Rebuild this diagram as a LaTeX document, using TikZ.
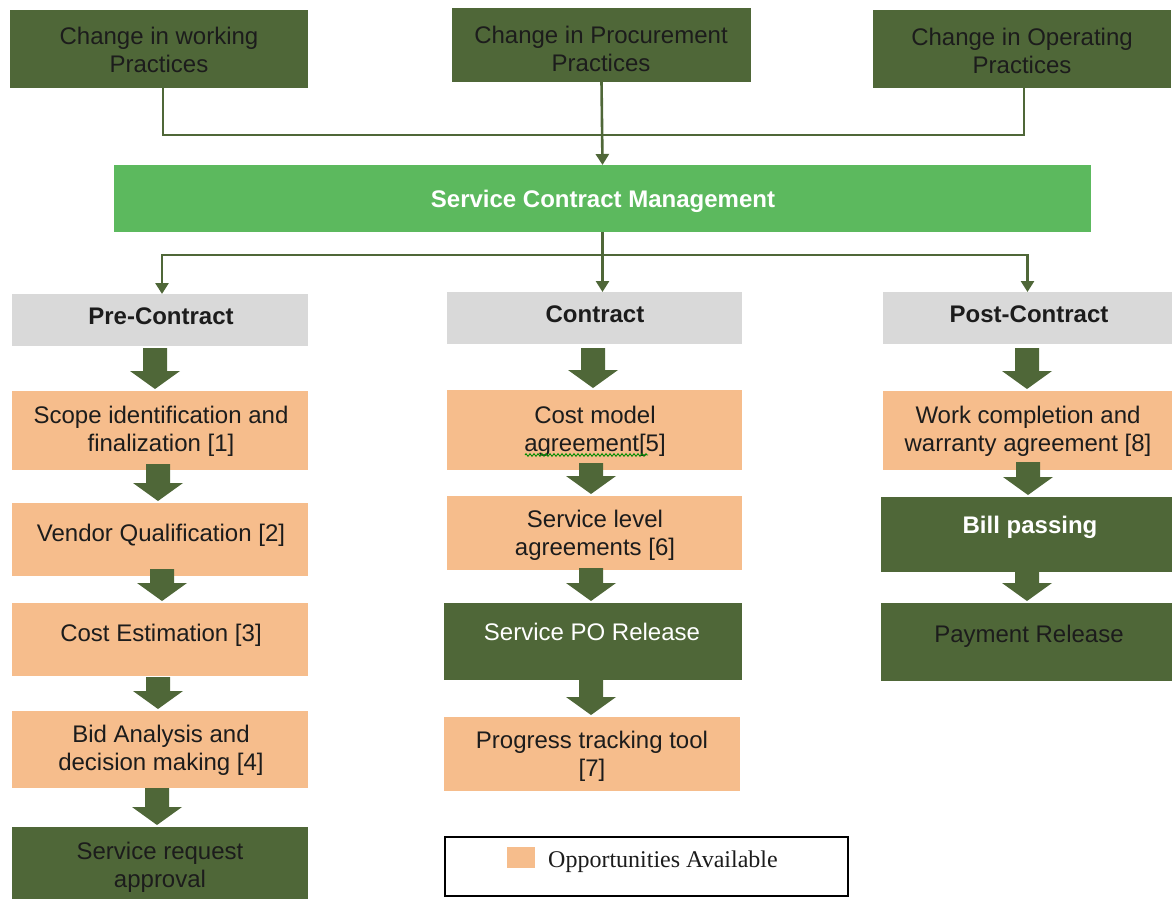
\documentclass[tikz,border=0pt]{standalone}
\usepackage{fontspec}
\setmainfont{Liberation Sans}
\newfontfamily\legendserif{Liberation Serif}
\usetikzlibrary{arrows.meta,calc,decorations.pathmorphing}

\definecolor{dkgreen}{RGB}{79,103,56}
\definecolor{ltgreen}{RGB}{92,185,94}
\definecolor{peach}{RGB}{246,189,140}
\definecolor{phasegray}{RGB}{217,217,217}
\definecolor{inktext}{RGB}{28,28,28}

% rectangle node given by its corners (x1,y1) and (x2,y2), y growing downwards
\newcommand\boxat[6]{%
  \node[#1, minimum width={#5-#3}, minimum height={#6-#4}] (#2)
    at ({(#3+#5)/2},{(#4+#6)/2}) {};}

% thick block arrow from the bottom of one box to the top of the next:
% #1 from, #2 to, #3 column x, #4 start offset below the upper box
\newcommand\blockarrow[4]{%
  \coordinate (ax) at (#3,0);
  \fill[dkgreen] ($(#1.south -| ax)+(-12,#4)$) -- ++(24,0)
    -- ($(#2.north -| ax)+(12,-20)$) -- ++(13,0)
    -- ($(#2.north -| ax)+(0,-2)$)
    -- ($(#2.north -| ax)+(-25,-20)$) -- ++(13,0) -- cycle;}

\begin{document}
\begin{tikzpicture}[x=1pt,y=-1pt,
  box/.style={inner sep=0pt, outer sep=0pt, draw=none},
  darkbox/.style={box, fill=dkgreen},
  mainbox/.style={box, fill=ltgreen},
  phasebox/.style={box, fill=phasegray},
  oppbox/.style={box, fill=peach},
  lbl/.style={inner sep=0pt, align=center, text=inktext,
              font=\fontsize{24}{28}\selectfont},
  boldlbl/.style={lbl, font=\fontsize{24}{28}\selectfont\bfseries},
  conn/.style={draw=dkgreen, line width=2.6pt},
  headed/.style={-{Triangle[width=13pt,length=11pt]}},
]
\useasboundingbox (0,0) rectangle (1172,898);

% ---- drivers of change
\boxat{darkbox}{tl}{10}{10}{308}{88}
\boxat{darkbox}{tm}{452}{8}{751}{82}
\boxat{darkbox}{tr}{873}{10}{1171}{88}
\node[lbl] (tl-t) at (159,50) {Change in working\\Practices};
\node[lbl] (tm-t) at (601,48.5) {Change in Procurement\\Practices};
\node[lbl] (tr-t) at (1022,50.5) {Change in Operating\\Practices};

% ---- central process
\boxat{mainbox}{scm}{114}{165}{1091}{232}
\node[boldlbl, text=white] (scm-t) at (603,201) {Service Contract Management};

% ---- phases
\boxat{phasebox}{pre}{12}{294}{308}{346}
\boxat{phasebox}{con}{447}{292}{742}{344}
\boxat{phasebox}{post}{883}{292}{1172}{344}
\node[boldlbl] (pre-t) at (161,316) {Pre-Contract};
\node[boldlbl] (con-t) at (595,314) {Contract};
\node[boldlbl] (post-t) at (1029,314) {Post-Contract};

% ---- pre-contract steps
\boxat{oppbox}{scope}{12}{391}{308}{470}
\boxat{oppbox}{vendor}{12}{503}{308}{576}
\boxat{oppbox}{estim}{12}{603}{308}{676}
\boxat{oppbox}{bid}{12}{711}{308}{788}
\boxat{darkbox}{sra}{12}{827}{308}{905}
\node[lbl] (scope-t) at (161,431) {Scope identification and\\finalization [1]};
\node[lbl] (vendor-t) at (161,535) {Vendor Qualification [2]};
\node[lbl] (estim-t) at (161,635) {Cost Estimation [3]};
\node[lbl] (bid-t) at (161,750) {Bid Analysis and\\decision making [4]};
\node[lbl] (sra-t) at (160,867.5) {Service request\\approval};

% ---- contract steps
\boxat{oppbox}{cmodel}{447}{390}{742}{470}
\boxat{oppbox}{sla}{447}{496}{742}{570}
\boxat{darkbox}{po}{444}{603}{742}{680}
\boxat{oppbox}{track}{444}{717}{740}{791}
\node[lbl] (cmodel-t) at (595,431.5) {Cost model\\agreement[5]};
\draw[draw=green!55!black, line width=0.9pt, decorate,
      decoration={zigzag, segment length=4pt, amplitude=1.3pt}]
  (525,455) -- (648,455);
\node[lbl] (sla-t) at (595,535) {Service level\\agreements [6]};
\node[lbl, text=white] (po-t) at (592,632) {Service PO Release};
\node[lbl] (track-t) at (592,756) {Progress tracking tool\\{[7]}};

% ---- post-contract steps
\boxat{oppbox}{work}{883}{391}{1172}{470}
\boxat{darkbox}{bill}{881}{497}{1172}{572}
\boxat{darkbox}{pay}{881}{603}{1172}{681}
\node[lbl] (work-t) at (1028,431) {Work completion and\\warranty agreement [8]};
\node[boldlbl, text=white] (bill-t) at (1030,527.5) {Bill passing};
\node[lbl] (pay-t) at (1029,636) {Payment Release};

% ---- thin connectors
\coordinate (bus) at (602,135);
\coordinate (split) at (602,255);
\draw[conn] ([xshift=4pt]tl.south) |- (bus) -| ([xshift=2pt]tr.south);
\draw[conn, headed] (tm.south) -- (scm.north);
\draw[conn, headed] (scm.south) -- (scm.south |- con.north);
\draw[conn, headed] (split) -| ([xshift=2pt]pre.north);
\draw[conn, headed] (split) -| (post.north);

% ---- block arrows
\blockarrow{pre}{scope}{155}{2}
\blockarrow{scope}{vendor}{158}{-6}
\blockarrow{vendor}{estim}{162}{-7}
\blockarrow{estim}{bid}{158}{1}
\blockarrow{bid}{sra}{157}{0}
\blockarrow{con}{cmodel}{593}{4}
\blockarrow{cmodel}{sla}{591}{-7}
\blockarrow{sla}{po}{591}{-2}
\blockarrow{po}{track}{591}{0}
\blockarrow{post}{work}{1027}{4}
\blockarrow{work}{bill}{1028}{-8}
\blockarrow{bill}{pay}{1027}{0}

% ---- legend
\boxat{box, draw=black, line width=2pt, fill=white}{legend}{445}{837}{848}{896}
\boxat{oppbox}{legsw}{507}{847}{535}{868}
\node[anchor=west, inner sep=0pt, text=inktext,
      font=\legendserif\fontsize{24}{28}\selectfont]
  (legend-t) at (548,862) {Opportunities Available};
\end{tikzpicture}
\end{document}
